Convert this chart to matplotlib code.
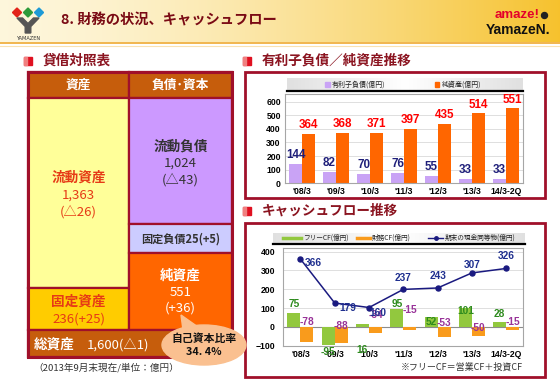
import matplotlib
matplotlib.use('Agg')
import matplotlib.pyplot as plt
import numpy as np
from matplotlib.patches import Rectangle, Polygon, Ellipse

plt.rcParams['font.family'] = ['Noto Sans CJK JP', 'DejaVu Sans']

# ---------------- data ----------------
periods = ["'08/3", "'09/3", "'10/3", "'11/3", "'12/3", "'13/3", "14/3-2Q"]
debt = [144, 82, 70, 76, 55, 33, 33]          # 有利子負債
equity = [364, 368, 371, 397, 435, 514, 551]  # 純資産
free_cf = [75, -95, 16, 95, 52, 101, 28]      # フリーCF
fin_cf = [-78, -88, -34, -15, -53, -50, -15]  # 財務CF
cash = [366, 179, 160, 237, 243, 307, 326]    # 期末の現金同等物

bs_current_assets = ["流動資産", "1,363", "(△26)"]
bs_fixed_assets = ["固定資産", "236(+25)"]
bs_current_liab = ["流動負債", "1,024", "(△43)"]
bs_fixed_liab = "固定負債25(+5)"
bs_net_assets = ["純資産", "551", "(+36)"]
bs_total = ["総資産", "1,600(△1)"]
equity_ratio = ["自己資本比率", "34. 4%"]

# label placement (chart 2, in left-axis units)
free_lbl_y = [123, -136, -123, 123, 25, 87, 70]
fin_lbl_y = [25, 7, 61, 91, 20, -7, 25]
cash_lbl_off = [(13, -4), (13, -5), (9, -5), (0, 11), (0, 12), (0, 8), (0, 12)]

W, H = 560, 388
fig = plt.figure(figsize=(W / 100, H / 100), dpi=100)
bg = fig.add_axes([0, 0, 1, 1], zorder=0)
bg.set_xlim(0, W)
bg.set_ylim(H, 0)
bg.axis('off')

DARKRED = '#8B1420'
BORDER = '#A0102A'

# ---------------- header ----------------
t = np.linspace(0, 1, 400) ** 1.5
c0 = np.array([0.995, 0.965, 0.86])
c1 = np.array([0.965, 0.76, 0.18])
img = (c0[None, :] * (1 - t[:, None]) + c1[None, :] * t[:, None])[None, :, :]
bg.imshow(img, extent=(0, W, 42, 0), aspect='auto', zorder=0)
bg.plot([0, W], [43.2, 43.2], color='#F0B040', lw=1.3, zorder=1)
bg.plot([0, W], [45.6, 45.6], color='#FBE2B0', lw=0.8, zorder=1)

# logo
for cx, col in [(17, '#E2231A'), (28, '#2E9B3A'), (39, '#1E9AD6')]:
    bg.add_patch(Polygon([(cx - 4.5, 12.5), (cx, 8), (cx + 4.5, 12.5), (cx, 17)],
                         closed=True, color=col, zorder=2))
bg.add_patch(Polygon([(17, 18), (22.5, 18), (28, 23.5), (33.5, 18), (39, 18),
                      (30.8, 26.5), (30.8, 33), (25.2, 33), (25.2, 26.5)],
                     closed=True, color='#555555', zorder=2))
bg.text(28, 38.5, "YAMAZEN", fontsize=3.6, ha='center', va='center',
        color='#333333', family=['DejaVu Sans'], zorder=2)

bg.text(61, 20.5, "8. 財務の状況、キャッシュフロー", fontsize=10.3, fontweight='bold',
        color='#7A0A14', ha='left', va='center', zorder=2)

bg.text(540, 15, "amaze!", fontsize=9.5, fontweight='bold', color='#E4002B',
        ha='right', va='center', family=['Liberation Sans'], zorder=2)
bg.add_patch(Ellipse((544.5, 15.5), 6, 6, color='#222222', zorder=2))
bg.text(550, 30.5, "YamazeN.", fontsize=10, fontweight='bold', color='#111111',
        ha='right', va='center', family=['Liberation Sans'], zorder=2)


def bullet(x, y):
    bg.add_patch(Rectangle((x, y), 7.5, 8, color='#E01020', zorder=2))
    bg.add_patch(Rectangle((x, y), 2.5, 8, color='#F08080', zorder=2))


def section(x, y, text):
    bullet(x - 19, y - 4)
    bg.text(x, y, text, fontsize=9.8, fontweight='bold', color=DARKRED,
            ha='left', va='center', zorder=2)


section(43, 61, "貸借対照表")
section(262, 61, "有利子負債／純資産推移")
section(262, 211, "キャッシュフロー推移")

# ---------------- balance sheet ----------------
L, M, R = 28, 129.3, 231.5
T, HB = 71.5, 98
def cell(x0, y0, x1, y1, fc):
    bg.add_patch(Rectangle((x0, y0), x1 - x0, y1 - y0, facecolor=fc,
                           edgecolor=BORDER, lw=1.6, zorder=2))

cell(L, T, M, HB, '#C65D0C')
cell(M, T, R, HB, '#C65D0C')
cell(L, HB, M, 287.7, '#FFFF99')
cell(L, 287.7, M, 329.8, '#FFCC00')
cell(M, HB, R, 224, '#CC99FF')
cell(M, 224, R, 253.3, '#CCCCFF')
cell(M, 253.3, R, 329.8, '#FF6600')
cell(L, 329.8, R, 357, '#C65D0C')
bg.add_patch(Rectangle((L, T), R - L, 357 - T, facecolor='none',
                       edgecolor=BORDER, lw=2.2, zorder=3))

bg.text((L + M) / 2, 85, "資産", fontsize=9.2, fontweight='bold', color='white',
        ha='center', va='center', zorder=4)
bg.text((M + R) / 2, 85, "負債･資本", fontsize=9.2, fontweight='bold', color='white',
        ha='center', va='center', zorder=4)

ca_col = '#E63A16'
bg.text((L + M) / 2, 178, bs_current_assets[0], fontsize=9.8, fontweight='bold',
        color=ca_col, ha='center', va='center', zorder=4)
bg.text((L + M) / 2, 195, bs_current_assets[1], fontsize=9.5, color=ca_col,
        ha='center', va='center', zorder=4)
bg.text((L + M) / 2, 212, bs_current_assets[2], fontsize=9.5, color=ca_col,
        ha='center', va='center', zorder=4)

bg.text((L + M) / 2, 302, bs_fixed_assets[0], fontsize=9.8, fontweight='bold',
        color=ca_col, ha='center', va='center', zorder=4)
bg.text((L + M) / 2, 319, bs_fixed_assets[1], fontsize=9.5, color=ca_col,
        ha='center', va='center', zorder=4)

cl_col = '#333333'
bg.text((M + R) / 2, 147, bs_current_liab[0], fontsize=9.8, fontweight='bold',
        color=cl_col, ha='center', va='center', zorder=4)
bg.text((M + R) / 2, 163, bs_current_liab[1], fontsize=9.5, color=cl_col,
        ha='center', va='center', zorder=4)
bg.text((M + R) / 2, 180, bs_current_liab[2], fontsize=9.5, color=cl_col,
        ha='center', va='center', zorder=4)

bg.text((M + R) / 2, 239, bs_fixed_liab, fontsize=8, fontweight='bold',
        color=cl_col, ha='center', va='center', zorder=4)

bg.text((M + R) / 2, 276, bs_net_assets[0], fontsize=9.8, fontweight='bold',
        color='white', ha='center', va='center', zorder=4)
bg.text((M + R) / 2, 292, bs_net_assets[1], fontsize=9.5, color='white',
        ha='center', va='center', zorder=4)
bg.text((M + R) / 2, 308, bs_net_assets[2], fontsize=9.5, color='white',
        ha='center', va='center', zorder=4)

bg.text(34, 345, bs_total[0], fontsize=9.8, fontweight='bold', color='white',
        ha='left', va='center', zorder=4)
bg.text(87, 345, bs_total[1], fontsize=9.5, color='white',
        ha='left', va='center', zorder=4)

bg.text(33, 368, "（2013年9月末現在/単位：億円）", fontsize=6.9, color='#333333',
        ha='left', va='center', zorder=4)

# bubble
bub = '#FAC090'
bg.add_patch(Polygon([(181, 315), (183, 330), (198, 327)], closed=True,
                     color=bub, zorder=5))
bg.add_patch(Ellipse((204, 345), 84, 40, color=bub, zorder=5))
bg.text(204, 339, equity_ratio[0], fontsize=7.8, fontweight='bold', color='#111111',
        ha='center', va='center', zorder=6)
bg.text(204, 352, equity_ratio[1], fontsize=7.8, fontweight='bold', color='#111111',
        ha='center', va='center', zorder=6)

# ---------------- chart boxes ----------------
bg.add_patch(Rectangle((244.5, 71.5), 300.5, 126, facecolor='white',
                       edgecolor=BORDER, lw=2, zorder=2))
bg.add_patch(Rectangle((244.5, 223), 300.5, 154, facecolor='white',
                       edgecolor=BORDER, lw=2, zorder=2))


def legend_box(x0, x1, y0, y1):
    gx = np.linspace(0, 1, 200)
    gval = 1 - 0.12 * np.abs(gx - 0.5) * 2
    gimg = np.repeat(gval[None, :, None], 3, axis=2)
    bg.imshow(gimg, extent=(x0, x1, y1, y0), aspect='auto', zorder=3)
    bg.plot([x0, x1], [y1 + 0.5, y1 + 0.5], color='black', lw=1.6, zorder=4)


legend_box(287, 523, 78, 90)
bg.add_patch(Rectangle((325, 82), 4.5, 4.5, color='#C9A3F5', zorder=4))
bg.text(332, 84.2, "有利子負債(億円)", fontsize=5, color='#222222', ha='left',
        va='center', zorder=4)
bg.add_patch(Rectangle((434.5, 82), 4.5, 4.5, color='#FF6600', zorder=4))
bg.text(442, 84.2, "純資産(億円)", fontsize=5, color='#222222', ha='left',
        va='center', zorder=4)

legend_box(273, 525, 233, 243)
bg.plot([283, 301], [238, 238], color='#92C83E', lw=2.5, zorder=4)
bg.text(303, 238, "フリーCF(億円)", fontsize=4.8, color='#222222', ha='left',
        va='center', zorder=4)
bg.plot([357, 370], [238, 238], color='#F99B1C', lw=2.5, zorder=4)
bg.text(372, 238, "財務CF(億円)", fontsize=4.8, color='#222222', ha='left',
        va='center', zorder=4)
bg.plot([428, 443], [238, 238], color='#1A1A80', lw=1, zorder=4)
bg.plot([435.5], [238], color='#1A1A80', marker='o', ms=2.5, zorder=4)
bg.text(445, 238, "期末の現金同等物(億円)", fontsize=4.8, color='#222222', ha='left',
        va='center', zorder=4)
bg.set_xlim(0, W)
bg.set_ylim(H, 0)

bg.text(523, 367, "※フリーCF＝営業CF＋投資CF", fontsize=6.5, color='#333333',
        ha='right', va='center', zorder=4)


def ax_at(x0, y0, x1, y1, z=5):
    return fig.add_axes([x0 / W, 1 - y1 / H, (x1 - x0) / W, (y1 - y0) / H], zorder=z)


def style(ax):
    for s in ax.spines.values():
        s.set_color('#A6A6A6')
        s.set_linewidth(0.8)
    ax.tick_params(length=0, pad=3, labelsize=6.2)
    for lab in ax.get_xticklabels() + ax.get_yticklabels():
        lab.set_fontweight('bold')
        lab.set_family(['Liberation Sans', 'DejaVu Sans'])
    ax.yaxis.grid(True, color='#D9D9D9', lw=0.6)
    ax.set_axisbelow(True)


x = np.arange(len(periods))
w = 0.38

# ---------------- chart 1 ----------------
ax1 = ax_at(285, 94, 523, 183.3)
ax1.bar(x - w / 2, debt, w, color='#C9A3F5', zorder=2)
ax1.bar(x + w / 2, equity, w, color='#FF6600', zorder=2)
ax1.set_xlim(-0.5, len(periods) - 0.5)
ax1.set_ylim(0, 656)
ax1.set_yticks(range(0, 601, 100))
ax1.set_xticks(x)
ax1.set_xticklabels(periods)
style(ax1)
for i in range(len(periods)):
    ax1.annotate(str(debt[i]), (x[i] - w / 2, debt[i]), xytext=(0, 2),
                 textcoords='offset points', ha='center', va='bottom',
                 fontsize=8.4, fontweight='bold', color='#1F1F7A',
                 family=['Liberation Sans'])
    ax1.annotate(str(equity[i]), (x[i] + w / 2, equity[i]), xytext=(0, 2),
                 textcoords='offset points', ha='center', va='bottom',
                 fontsize=8.4, fontweight='bold', color='#FF0000',
                 family=['Liberation Sans'], annotation_clip=False)

# ---------------- chart 2 ----------------
ax2 = ax_at(283.3, 248.3, 523.3, 345.7)
ax2.bar(x - w / 2, free_cf, w, color='#92C83E', zorder=2)
ax2.bar(x + w / 2, fin_cf, w, color='#F99B1C', zorder=2)
ax2.axhline(0, color='#8C8C8C', lw=0.8, zorder=1)
ax2.set_xlim(-0.5, len(periods) - 0.5)
ax2.set_ylim(-100, 418)
ax2.set_yticks(range(-100, 401, 100))
ax2.set_xticks(x)
ax2.set_xticklabels(periods)
style(ax2)
ax2.tick_params(axis='y', pad=6)

ax2t = ax2.twinx()
ax2t.set_ylim(-2.3, 411.7)
ax2t.set_yticks([])
for s in ax2t.spines.values():
    s.set_visible(False)
ax2t.plot(x, cash, color='#1A1A80', lw=1.1, marker='o', ms=3.6, zorder=3)

for i in range(len(periods)):
    ax2.text(x[i] - w / 2, free_lbl_y[i], str(free_cf[i]), ha='center', va='center',
             fontsize=7.3, fontweight='bold', color='#2E8B1E', clip_on=False,
             family=['Liberation Sans'], zorder=6)
    ax2.text(x[i] + w / 2, fin_lbl_y[i], str(fin_cf[i]), ha='center', va='center',
             fontsize=7.3, fontweight='bold', color='#993399', clip_on=False,
             family=['Liberation Sans'], zorder=6)
    ax2t.annotate(str(cash[i]), (x[i], cash[i]), xytext=cash_lbl_off[i],
                  textcoords='offset pixels', ha='center', va='center',
                  fontsize=7.3, fontweight='bold', color='#1F2F8F',
                  family=['Liberation Sans'], annotation_clip=False)

fig.savefig('out.png', dpi=100)
